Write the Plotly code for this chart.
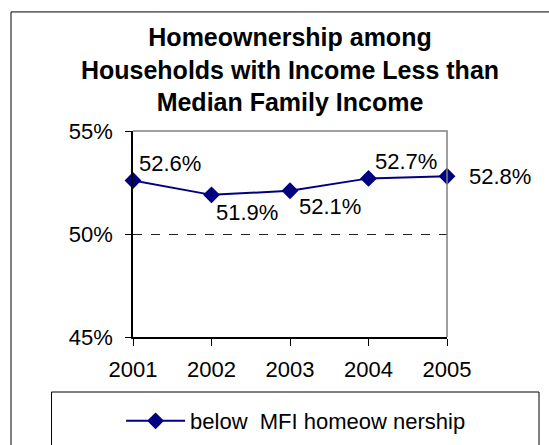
import plotly.graph_objects as go

years = [2001, 2002, 2003, 2004, 2005]
values = [52.6, 51.9, 52.1, 52.7, 52.8]
labels = ["52.6%", "51.9%", "52.1%", "52.7%", "52.8%"]
series_name = "below  MFI homeow nership"
title_lines = ["Homeownership among", "Households with Income Less than", "Median Family Income"]
y_ticks = [45, 50, 55]
y_tick_text = ["45%", "50%", "55%"]

# label offsets (pixels) relative to each point
label_dx = [4, 2, 7, 4, 20]
label_dy = [17, -18, -16, 17, 0]

FONT = "Liberation Sans, Arial, sans-serif"
NAVY = "#000080"

fig = go.Figure()
fig.add_trace(go.Scatter(
    x=years, y=values, mode="lines+markers", name=series_name,
    line=dict(color=NAVY, width=2),
    marker=dict(symbol="diamond", size=13, color=NAVY),
    cliponaxis=False,
))

for xv, yv, t, dx, dy in zip(years, values, labels, label_dx, label_dy):
    fig.add_annotation(x=xv, y=yv, xref="x", yref="y", text=t, showarrow=False,
                       xanchor="left", yanchor="middle", xshift=dx, yshift=dy,
                       font=dict(family=FONT, size=22, color="black"))

# outer chart border
fig.add_shape(type="rect", xref="paper", yref="paper", x0=-0.3885, x1=1.40, y0=-0.75, y1=1.578,
              line=dict(color="black", width=1), fillcolor="rgba(0,0,0,0)", layer="below")
# legend box
fig.add_shape(type="rect", xref="paper", yref="paper", x0=-0.2595, x1=1.2930, y0=-0.75, y1=-0.267,
              line=dict(color="black", width=1), fillcolor="rgba(0,0,0,0)", layer="below")
# plot area top/right border
fig.add_shape(type="path", xref="paper", yref="paper", path="M0,1 L1,1 L1,0",
              line=dict(color="#808080", width=1.5), layer="above")

fig.update_layout(
    width=549, height=445,
    margin=dict(l=133, r=102, t=131, b=108, autoexpand=False),
    paper_bgcolor="white", plot_bgcolor="white",
    font=dict(family=FONT, size=22, color="black"),
    title=dict(text="<br>".join(title_lines), x=0.5, xref="paper", xanchor="center",
               y=1 - 46 / 445, yref="container", yanchor="middle",
               font=dict(family=FONT, size=25, color="black", weight="bold")),
    showlegend=True,
    legend=dict(x=-0.038, y=-0.408, xanchor="left", yanchor="middle", xref="paper", yref="paper",
                orientation="h", itemwidth=59, bgcolor="rgba(0,0,0,0)", borderwidth=0,
                font=dict(family=FONT, size=22, color="black")),
    xaxis=dict(range=[years[0], years[-1]], tickvals=years, showgrid=False, zeroline=False,
               showline=True, linecolor="black", linewidth=1.5,
               ticks="outside", ticklen=7, tickcolor="black", tickwidth=1,
               ticklabelstandoff=5, tickfont=dict(family=FONT, size=22, color="black")),
    yaxis=dict(range=[y_ticks[0], y_ticks[-1]], tickvals=y_ticks, ticktext=y_tick_text,
               showgrid=True, gridcolor="#222222", griddash="dash", gridwidth=1, zeroline=False,
               showline=True, linecolor="black", linewidth=1.5,
               ticks="outside", ticklen=6, tickcolor="black", tickwidth=1,
               ticklabelstandoff=8, tickfont=dict(family=FONT, size=22, color="black")),
)

fig.write_html("out.html")
